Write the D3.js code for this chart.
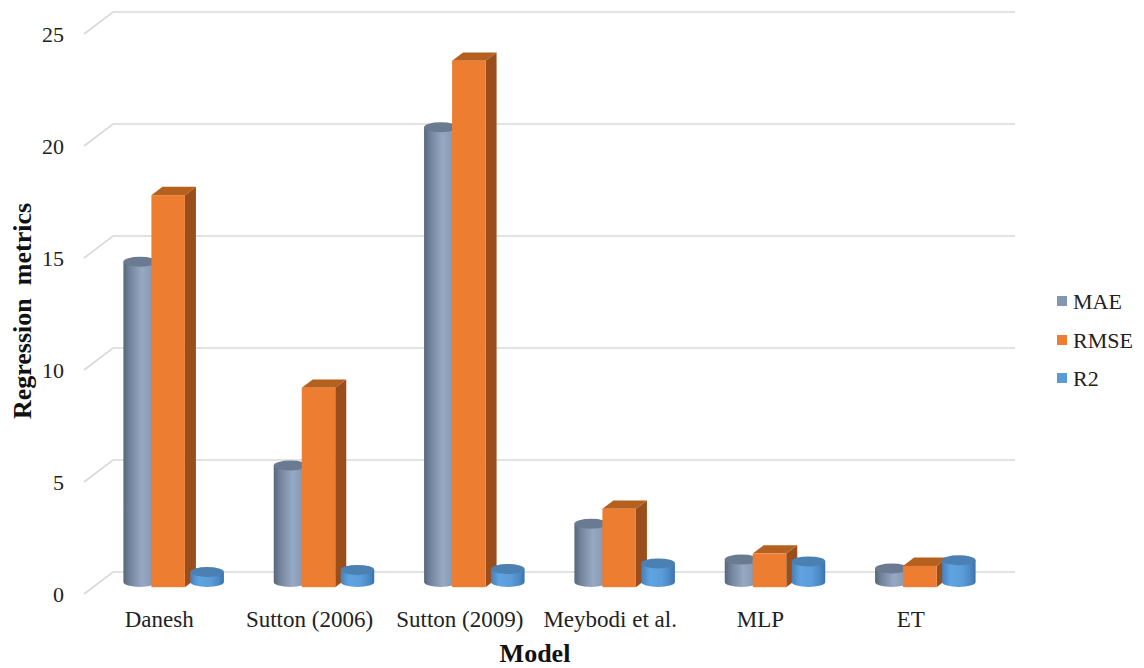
<!DOCTYPE html>
<html>
<head>
<meta charset="utf-8">
<script src="https://cdn.jsdelivr.net/npm/d3@7"></script>
<style>
  html, body { margin: 0; padding: 0; background: #fff; overflow: hidden; }
  svg { display: block; font-family: "Liberation Serif", "Times New Roman", serif; }
</style>
</head>
<body>
<svg id="chart" width="1144" height="668"></svg>
<script>
// Model names along the x axis
const categories = ["Danesh", "Sutton (2006)", "Sutton (2009)", "Meybodi et al.", "MLP", "ET"];
// Series names (legend order)
const seriesNames = ["MAE", "RMSE", "R2"];
// Regression metric values per model
const maeValues  = [14.3, 5.2, 20.3, 2.6, 1.0, 0.6];
const rmseValues = [17.5, 8.9, 23.5, 3.5, 1.5, 0.95];
const r2Values   = [0.45, 0.54, 0.58, 0.83, 0.92, 0.97];
// Value-axis ticks
const yTicks = [0, 5, 10, 15, 20, 25];

const series = [
  { name: "MAE",  values: maeValues,  shape: "cylinder", fill: "#8497b0", top: "#6a7a90", grad: "gMae" },
  { name: "RMSE", values: rmseValues, shape: "box",      fill: "#ed7d31", top: "#b6601f", side: "#9a4e1c" },
  { name: "R2",   values: r2Values,   shape: "cylinder", fill: "#5b9bd5", top: "#4b80b3", grad: "gR2" }
];

const svg = d3.select("#chart");

// Back wall geometry and oblique depth offset (back -> front)
const wallLeft = 113, wallRight = 1015;
const depthDX = -29, depthDY = 22;

const y = d3.scaleLinear().domain([0, 25]).range([572, 12]);
const x0 = d3.scaleBand().domain(categories).range([wallLeft, wallRight]).padding(0);
const groupW = 100.5;
const x1 = d3.scaleBand().domain(seriesNames)
  .range([(x0.bandwidth() - groupW) / 2, (x0.bandwidth() + groupW) / 2]).padding(0);

// project (x on back wall, value, depth 0=back..1=front) to screen
const px = (xb, d) => xb + depthDX * d;
const py = (v, d) => y(v) + depthDY * d;

// Gradients for the cylinders
const defs = svg.append("defs");
function cylGrad(id, stops) {
  const g = defs.append("linearGradient").attr("id", id)
    .attr("x1", "0%").attr("x2", "100%").attr("y1", "0%").attr("y2", "0%");
  stops.forEach(([o, c]) => g.append("stop").attr("offset", o).attr("stop-color", c));
}
cylGrad("gMae", [["0%", "#56667b"], ["18%", "#71839b"], ["55%", "#97a9c2"], ["82%", "#8a9cb5"], ["100%", "#6c7e96"]]);
cylGrad("gR2",  [["0%", "#4681bb"], ["25%", "#5fa3e1"], ["60%", "#5a9dd9"], ["85%", "#4a88c3"], ["100%", "#3b72a8"]]);

// Gridlines: diagonal on the side wall + horizontal on the back wall
const grid = svg.append("g");
yTicks.forEach(t => {
  grid.append("path")
    .attr("d", `M${px(wallLeft, 1)},${py(t, 1)} L${wallLeft},${y(t)} L${wallRight},${y(t)}`)
    .attr("fill", "none").attr("stroke", "#d9d9d9").attr("stroke-width", 1.6);
});

// Value tick labels
svg.append("g").selectAll("text").data(yTicks).join("text")
  .attr("x", 64).attr("y", d => py(d, 1))
  .attr("text-anchor", "end").attr("dominant-baseline", "central")
  .attr("font-size", 22).attr("fill", "#222")
  .text(d => d);

// Bars
const bars = svg.append("g");
const ry = 5;
categories.forEach((cat, ci) => {
  series.forEach(s => {
    const v = s.values[ci];
    const xl = x0(cat) + x1(s.name);
    const w = x1.bandwidth();
    if (s.shape === "cylinder") {
      const dMid = 0.5;
      const cx = px(xl, dMid) + w / 2;
      const rx = w / 2;
      const yb = py(0, dMid) - 1;
      const yt = py(v, dMid) - 1;
      bars.append("path")
        .attr("d", `M${cx - rx},${yt} L${cx - rx},${yb} A${rx},${ry} 0 0 0 ${cx + rx},${yb} L${cx + rx},${yt} Z`)
        .attr("fill", `url(#${s.grad})`);
      bars.append("ellipse")
        .attr("cx", cx).attr("cy", yt).attr("rx", rx).attr("ry", ry)
        .attr("fill", s.top);
    } else {
      const dF = 0.69, dB = 0.31;
      const fx = px(xl, dF), bx = px(xl, dB);
      const fyTop = py(v, dF), fyBot = py(0, dF);
      const byTop = py(v, dB), byBot = py(0, dB);
      // side face
      bars.append("path")
        .attr("d", `M${fx + w},${fyTop} L${bx + w},${byTop} L${bx + w},${byBot} L${fx + w},${fyBot} Z`)
        .attr("fill", s.side);
      // top face
      bars.append("path")
        .attr("d", `M${fx},${fyTop} L${bx},${byTop} L${bx + w},${byTop} L${fx + w},${fyTop} Z`)
        .attr("fill", s.top);
      // front face
      bars.append("rect")
        .attr("x", fx).attr("y", fyTop).attr("width", w).attr("height", fyBot - fyTop)
        .attr("fill", s.fill);
    }
  });
});

// Category labels on the front edge
svg.append("g").selectAll("text").data(categories).join("text")
  .attr("x", d => px(x0(d) + x0.bandwidth() / 2, 1))
  .attr("y", 627)
  .attr("text-anchor", "middle")
  .attr("font-size", 23).attr("fill", "#222")
  .text(d => d);

// Axis titles
svg.append("text")
  .attr("x", 535).attr("y", 662)
  .attr("text-anchor", "middle")
  .attr("font-size", 26).attr("font-weight", "bold").attr("fill", "#111")
  .text("Model");

svg.append("text")
  .attr("transform", "translate(31,311) rotate(-90)")
  .attr("text-anchor", "middle")
  .attr("font-size", 26).attr("font-weight", "bold").attr("fill", "#111")
  .attr("xml:space", "preserve")
  .style("white-space", "pre")
  .text("Regression  metrics");

// Legend
const legend = svg.append("g");
const legendY = [301, 340, 378];
series.forEach((s, i) => {
  legend.append("rect")
    .attr("x", 1057).attr("y", legendY[i] - 5).attr("width", 10).attr("height", 10)
    .attr("fill", s.fill);
  legend.append("text")
    .attr("x", 1073).attr("y", legendY[i])
    .attr("dominant-baseline", "central")
    .attr("font-size", 22).attr("fill", "#222")
    .text(s.name);
});
</script>
</body>
</html>
